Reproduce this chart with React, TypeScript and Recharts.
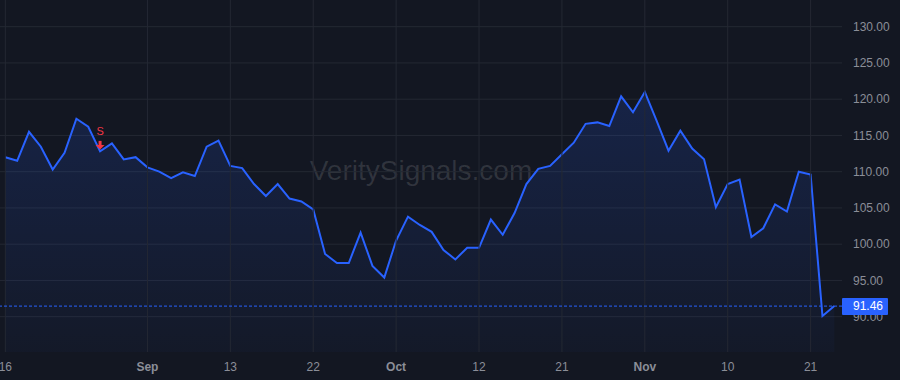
import React from 'react';
import {
  ComposedChart, Area, XAxis, YAxis, CartesianGrid, ReferenceLine, ReferenceDot,
} from 'recharts';

const dates = [
  'Aug 16', 'Aug 17', 'Aug 18', 'Aug 21', 'Aug 22', 'Aug 23', 'Aug 24', 'Aug 25', 'Aug 28', 'Aug 29',
  'Aug 30', 'Aug 31', 'Sep 1', 'Sep 5', 'Sep 6', 'Sep 7', 'Sep 8', 'Sep 11', 'Sep 12', 'Sep 13',
  'Sep 14', 'Sep 15', 'Sep 18', 'Sep 19', 'Sep 20', 'Sep 21', 'Sep 22', 'Sep 25', 'Sep 26', 'Sep 27',
  'Sep 28', 'Sep 29', 'Sep 30', 'Oct 3', 'Oct 4', 'Oct 5', 'Oct 6', 'Oct 9', 'Oct 10', 'Oct 11',
  'Oct 12', 'Oct 13', 'Oct 16', 'Oct 17', 'Oct 18', 'Oct 19', 'Oct 20', 'Oct 21', 'Oct 24', 'Oct 25',
  'Oct 26', 'Oct 27', 'Oct 30', 'Oct 31', 'Nov 1', 'Nov 2', 'Nov 3', 'Nov 6', 'Nov 7', 'Nov 8',
  'Nov 9', 'Nov 10', 'Nov 13', 'Nov 14', 'Nov 15', 'Nov 16', 'Nov 17', 'Nov 20', 'Nov 21', 'Nov 22',
  'Nov 24',
];

const prices = [
  112.0, 111.5, 115.5, 113.45, 110.3, 112.6, 117.3, 116.2, 112.8, 113.9,
  111.7, 112.0, 110.6, 110.0, 109.1, 109.9, 109.4, 113.45, 114.3, 110.8,
  110.5, 108.3, 106.65, 108.3, 106.3, 105.9, 104.8, 98.65, 97.4, 97.4,
  101.6, 97.0, 95.4, 100.5, 103.8, 102.65, 101.7, 99.2, 97.9, 99.5,
  99.5, 103.4, 101.3, 104.3, 108.3, 110.4, 110.8, 112.4, 114.0, 116.6,
  116.8, 116.3, 120.4, 118.2, 121.0, 117.0, 112.9, 115.65, 113.2, 111.7,
  105.1, 108.3, 108.9, 101.0, 102.2, 105.5, 104.5, 110.0, 109.6, 90.1,
  91.46,
];

// x ticks: bar index + label shown under it
const tickIdx = [0, 12, 19, 26, 33, 40, 47, 54, 61, 68];
const tickLabels = ['16', 'Sep', '13', '22', 'Oct', '12', '21', 'Nov', '10', '21'];

const yTicks = [90, 95, 100, 105, 110, 115, 120, 125, 130];
const lastPrice = 91.46;
const sellSignalIdx = 8;

const rows = prices.map((v, i) => ({ i, date: dates[i], v }));

const BG = '#131722';
const BLUE = '#2962ff';
const GRID = '#242833';
const TEXT = '#8b8e98';
const FONT = '"Liberation Sans", Arial, sans-serif';
const PLOT_W = 842;
const PLOT_H = 352;

function XTick({ x, y, payload }: any) {
  const k = tickIdx.indexOf(payload.value);
  const label = tickLabels[k] ?? '';
  const isMonth = /^[A-Za-z]/.test(label);
  return (
    <text x={x} y={y} dy="0.71em" textAnchor="middle" fill={TEXT} fontSize={12}
      fontFamily={FONT} fontWeight={isMonth ? 700 : 400}>
      {label}
    </text>
  );
}

function YTick({ x, y, payload }: any) {
  if (payload.value === lastPrice) {
    return (
      <g>
        <rect x={x - 11} y={y - 8} width={46} height={17} fill={BLUE} rx={1} />
        <text x={x} y={y} dy="0.355em" fill="#ffffff" fontSize={12} fontFamily={FONT}>
          {lastPrice.toFixed(2)}
        </text>
      </g>
    );
  }
  return (
    <text x={x} y={y} dy="0.355em" fill={TEXT} fontSize={12} fontFamily={FONT}>
      {Number(payload.value).toFixed(2)}
    </text>
  );
}

function SellMarker({ cx, cy }: any) {
  const red = '#f23645';
  return (
    <g>
      <text x={cx} y={cy - 20} dy="0.355em" textAnchor="middle" fill={red} fontSize={11} fontFamily={FONT}>S</text>
      <rect x={cx - 1.5} y={cy - 10.5} width={3} height={4.5} fill={red} />
      <polygon points={`${cx - 4.5},${cy - 6.5} ${cx + 4.5},${cy - 6.5} ${cx},${cy - 2}`} fill={red} />
    </g>
  );
}

export default function App() {
  return (
    <div style={{ position: 'absolute', left: 0, top: 0, width: 900, height: 380, background: BG, overflow: 'hidden' }}>
      {/* watermark sits behind the transparent chart svg */}
      <div style={{
        position: 'absolute', left: 0, top: 0, width: PLOT_W, height: PLOT_H - 10,
        display: 'flex', alignItems: 'center', justifyContent: 'center',
        fontFamily: FONT, fontSize: 28, color: 'rgba(255,255,255,0.13)',
      }}>
        VeritySignals.com
      </div>
      <ComposedChart width={900} height={380} data={rows} margin={{ top: 0, right: 0, bottom: 0, left: 0 }}>
        <defs>
          <linearGradient id="fillGrad" x1="0" y1="0" x2="0" y2="1">
            <stop offset="0%" stopColor={BLUE} stopOpacity={0.28} />
            <stop offset="100%" stopColor={BLUE} stopOpacity={0.05} />
          </linearGradient>
        </defs>
        <CartesianGrid stroke={GRID} horizontalValues={yTicks} vertical={false} />
        {tickIdx.map((t) => (
          <ReferenceLine key={t} x={t} stroke={GRID} strokeWidth={1} />
        ))}
        <XAxis dataKey="i" type="number" domain={[-0.45, 70.65]} allowDataOverflow ticks={tickIdx}
          interval={0} height={28} tickSize={0} tickMargin={10} axisLine={false} tickLine={false} tick={<XTick />} />
        <YAxis orientation="right" width={58} domain={[85.13, 133.68]} allowDataOverflow
          ticks={[...yTicks, lastPrice]} interval={0} tickSize={0} tickMargin={11} axisLine={false}
          tickLine={false} tick={<YTick />} />
        <Area type="linear" dataKey="v" stroke={BLUE} strokeWidth={2} fill="url(#fillGrad)"
          dot={false} activeDot={false} isAnimationActive={false} />
        <ReferenceLine y={lastPrice} stroke={BLUE} strokeDasharray="3 2" strokeWidth={1} />
        <ReferenceDot x={sellSignalIdx} y={prices[sellSignalIdx]} shape={<SellMarker />} />
      </ComposedChart>
    </div>
  );
}
